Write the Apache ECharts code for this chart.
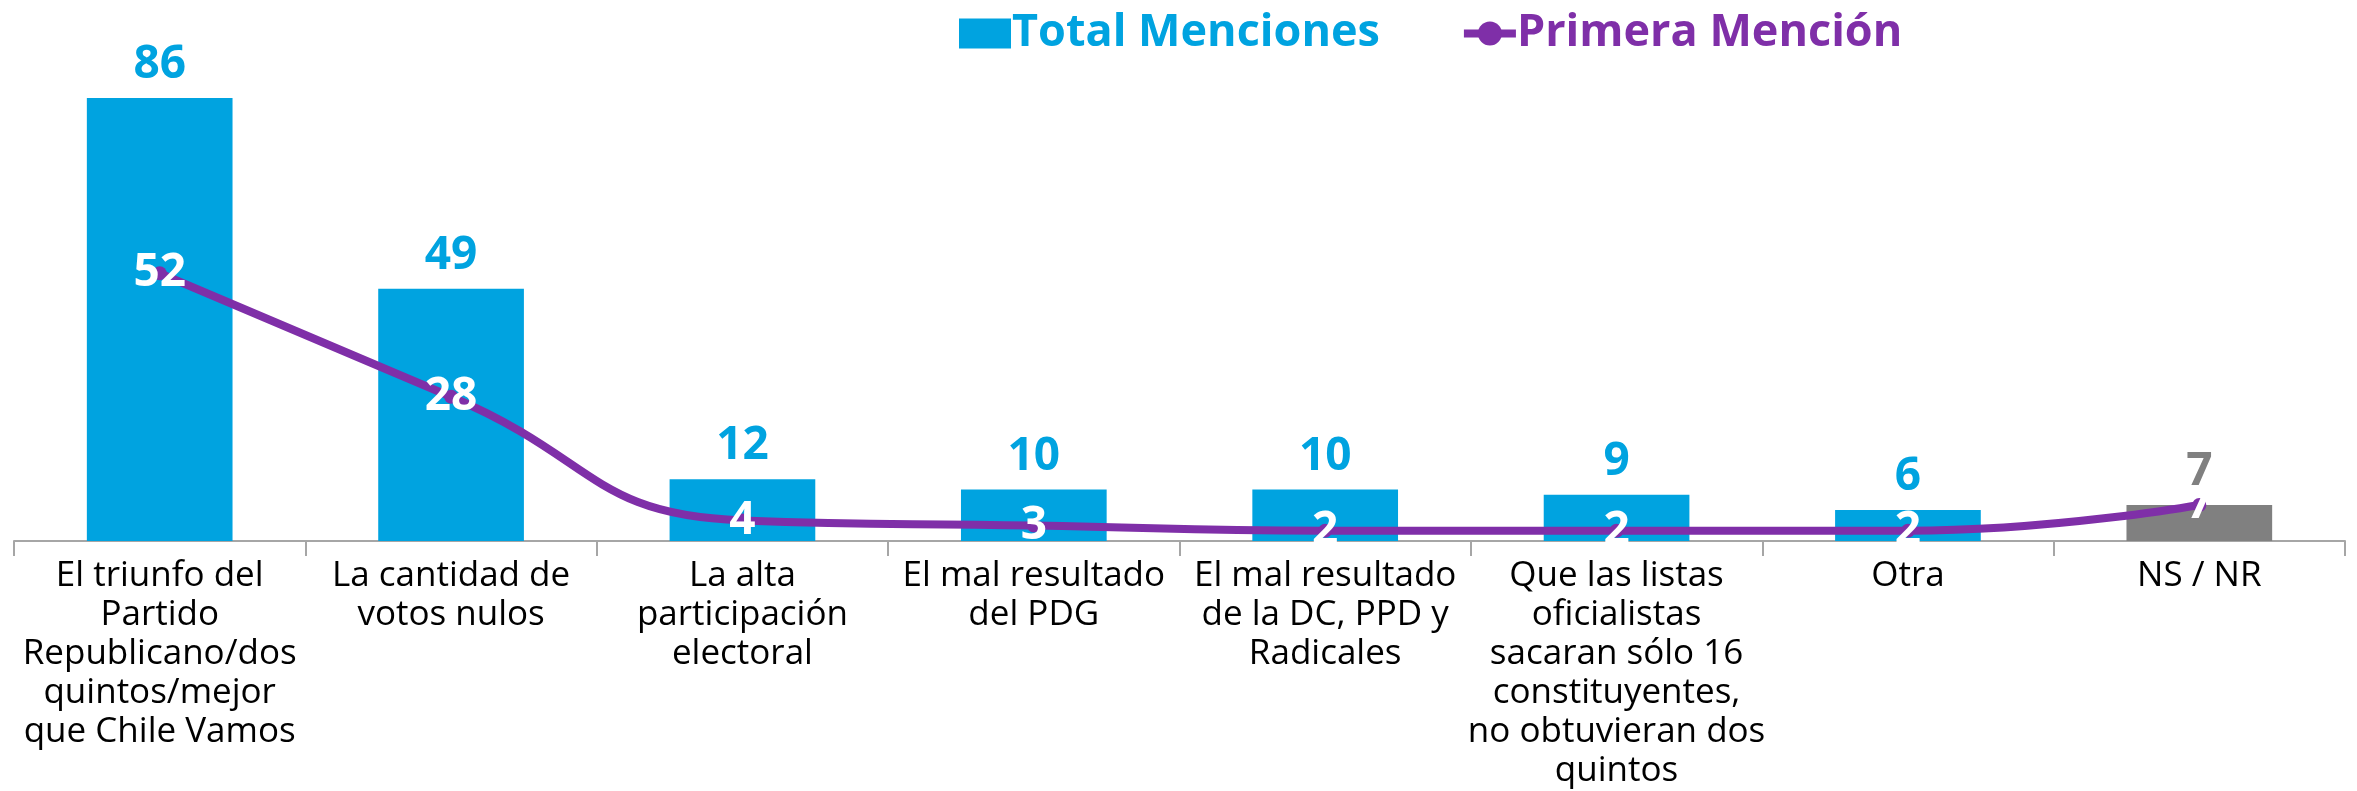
<!DOCTYPE html>
<html>
<head>
<meta charset="utf-8">
<script src="https://cdn.jsdelivr.net/npm/echarts@6/dist/echarts.min.js"></script>
<style>
html,body{margin:0;padding:0;background:#fff;}
#chart{width:2357px;height:791px;}
</style>
</head>
<body>
<div id="chart"></div>
<script>
const categories = [
  "El triunfo del\nPartido\nRepublicano/dos\nquintos/mejor\nque Chile Vamos",
  "La cantidad de\nvotos nulos",
  "La alta\nparticipación\nelectoral",
  "El mal resultado\ndel PDG",
  "El mal resultado\nde la DC, PPD y\nRadicales",
  "Que las listas\noficialistas\nsacaran sólo 16\nconstituyentes,\nno obtuvieran dos\nquintos",
  "Otra",
  "NS / NR"
];
const totalMenciones = [86, 49, 12, 10, 10, 9, 6, 7];
const primeraMencion = [52, 28, 4, 3, 2, 2, 2, 7];
const seriesNames = ["Total Menciones", "Primera Mención"];

const BLUE = "#00A3E0";
const PURPLE = "#7F2FA8";
const GRAY = "#808080";
const FONT = "'Open Sans', sans-serif";

const barData = totalMenciones.map((v, i) => {
  const isNs = i === totalMenciones.length - 1;
  return {
    value: v,
    itemStyle: { color: isNs ? GRAY : BLUE },
    label: { color: isNs ? GRAY : BLUE }
  };
});

const chart = echarts.init(document.getElementById('chart'));
chart.setOption({
  animation: false,
  backgroundColor: '#ffffff',
  legend: {
    top: 6,
    left: 954,
    itemGap: 80,
    itemWidth: 52,
    itemHeight: 30,
    textStyle: { fontFamily: FONT, fontWeight: 'bold', fontSize: 45, padding: [0, 0, 0, -4] },
    data: [
      { name: seriesNames[0], icon: 'rect', textStyle: { color: BLUE } },
      { name: seriesNames[1], textStyle: { color: PURPLE }, lineStyle: { width: 8, color: PURPLE } }
    ]
  },
  grid: { left: 14, right: 12, top: 26, bottom: 243, containLabel: false },
  xAxis: {
    type: 'category',
    data: categories,
    axisLine: { lineStyle: { color: '#A6A6A6', width: 2 } },
    axisTick: { show: true, length: 15, lineStyle: { color: '#A6A6A6', width: 2 } },
    axisLabel: {
      interval: 0,
      margin: 16,
      color: '#000',
      fontFamily: FONT,
      fontSize: 35,
      lineHeight: 39,
      align: 'center'
    }
  },
  yAxis: {
    type: 'value',
    min: 0,
    max: 100,
    show: false,
    splitLine: { show: false }
  },
  series: [
    {
      name: seriesNames[0],
      type: 'bar',
      data: barData,
      barWidth: '50%',
      itemStyle: { color: BLUE },
      label: {
        show: true,
        position: 'top',
        distance: 10,
        fontFamily: FONT,
        fontWeight: 'bold',
        fontSize: 46,
        color: BLUE
      },
      z: 2
    },
    {
      name: seriesNames[1],
      type: 'line',
      data: primeraMencion,
      smooth: 0.5,
      symbol: 'circle',
      symbolSize: 14,
      itemStyle: { color: PURPLE },
      lineStyle: { color: PURPLE, width: 8 },
      label: {
        show: true,
        position: 'inside',
        fontFamily: FONT,
        fontWeight: 'bold',
        fontSize: 46,
        color: '#ffffff'
      },
      z: 3
    }
  ]
});
</script>
</body>
</html>
